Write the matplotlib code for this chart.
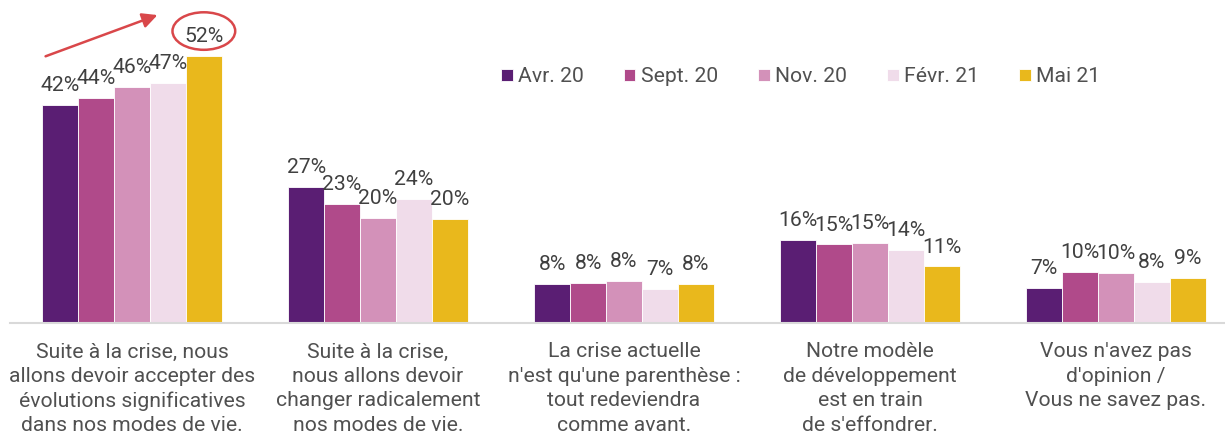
import matplotlib.pyplot as plt
from matplotlib.patches import Ellipse
import numpy as np

plt.rcParams['font.family'] = ['Roboto', 'DejaVu Sans']

categories = [
    "Suite à la crise, nous\nallons devoir accepter des\névolutions significatives\ndans nos modes de vie.",
    "Suite à la crise,\nnous allons devoir\nchanger radicalement\nnos modes de vie.",
    "La crise actuelle\nn'est qu'une parenthèse :\ntout redeviendra\ncomme avant.",
    "Notre modèle\nde développement\nest en train\nde s'effondrer.",
    "Vous n'avez pas\nd'opinion /\nVous ne savez pas.",
]
waves = ["Avr. 20", "Sept. 20", "Nov. 20", "Févr. 21", "Mai 21"]
colors = ["#5a1e73", "#b04a8a", "#d391b9", "#f0dcea", "#e9b81c"]

# values (bar heights), labels as printed
avr20 = [42.4, 26.5, 7.6, 16.2, 6.9]
sept20 = [43.8, 23.2, 7.8, 15.3, 9.9]
nov20 = [46.0, 20.4, 8.2, 15.6, 9.7]
fevr21 = [46.7, 24.2, 6.6, 14.2, 8.0]
mai21 = [52.0, 20.3, 7.6, 11.0, 8.8]
labels = [
    [42, 27, 8, 16, 7],
    [44, 23, 8, 15, 10],
    [46, 20, 8, 15, 10],
    [47, 24, 7, 14, 8],
    [52, 20, 8, 11, 9],
]
series = [avr20, sept20, nov20, fevr21, mai21]

text_col = "#404040"
grey_col = "#505050"
fs = 15.2
fig = plt.figure(figsize=(12.25, 4.38), dpi=100)
ax = fig.add_axes([10 / 1225, 115 / 438, 1215 / 1225, 323 / 438])

x = np.arange(len(categories))
w = 0.146
for j, vals in enumerate(series):
    pos = x + (j - 2) * w
    ax.bar(pos, vals, w, color=colors[j], edgecolor="white", linewidth=0.6, label=waves[j])
    for xi, v, lab in zip(pos, vals, labels[j]):
        ax.annotate(f"{lab}%", (xi, v), xytext=(0, 7), textcoords="offset points",
                    ha="center", va="bottom", fontsize=fs, color=text_col)

# highlight on the last value of the first group
ax.add_patch(Ellipse((x[0] + 2 * w, 56.8), 0.255, 7.3, fill=False,
                     edgecolor="#d9474a", linewidth=1.8, clip_on=False))
ax.annotate("", xy=(0.114, 60.1), xytext=(-0.362, 51.7),
            arrowprops=dict(arrowstyle="-|>,head_length=0.9,head_width=0.45",
                            color="#d9474a", lw=1.8), annotation_clip=False)

ax.set_xlim(-0.496, 4.443)
ax.set_ylim(0, 62.84)
ax.set_xticks(x)
ax.set_xticklabels(categories, fontsize=fs, color=grey_col, linespacing=1.36)
ax.tick_params(axis="x", length=0, pad=14)
ax.set_yticks([])
for s in ["top", "left", "right"]:
    ax.spines[s].set_visible(False)
ax.spines["bottom"].set_color("#d9d9d9")
ax.spines["bottom"].set_linewidth(1.5)

ax.legend(loc="center left", bbox_to_anchor=(491 / 1215, 1 - 77 / 323), ncol=5,
          frameon=False, fontsize=fs, handlelength=0.55, handleheight=0.55,
          handletextpad=0.25, columnspacing=1.9, borderpad=0, borderaxespad=0,
          labelcolor=grey_col)

fig.savefig("out.png", dpi=100)
